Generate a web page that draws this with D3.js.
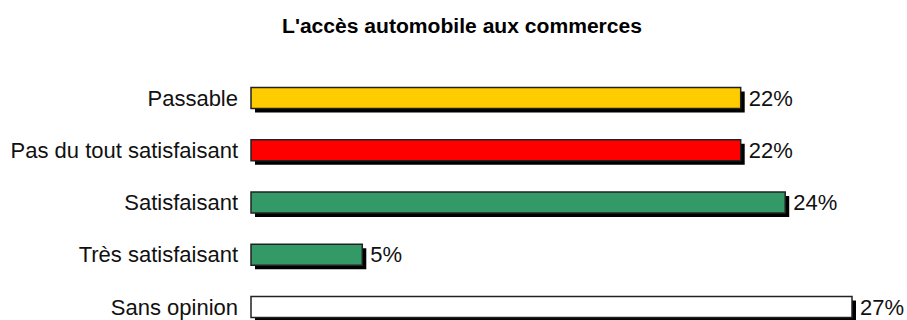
<!DOCTYPE html>
<html><head><meta charset="utf-8">
<script src="https://cdn.jsdelivr.net/npm/d3@7"></script>
<style>body{margin:0;background:#fff}svg{display:block}</style>
</head><body>
<script>
const categories = ["Passable","Pas du tout satisfaisant","Satisfaisant","Très satisfaisant","Sans opinion"];
const values = [22,22,24,5,27];
const colors = ["#FFCC00","#FF0000","#339966","#339966","#FFFFFF"];
const title = "L'accès automobile aux commerces";

const W=907,H=320;
const FONT="Liberation Sans, Arial, sans-serif";
const svg=d3.select("body").append("svg").attr("width",W).attr("height",H);
const x=d3.scaleLinear().domain([0,27]).range([251,852]);
const y=d3.scalePoint().domain(categories).range([98,307]);
const bh=21, off=4;

svg.append("text").attr("x",462).attr("y",33).attr("text-anchor","middle")
  .attr("font-family",FONT).attr("font-weight","bold")
  .attr("font-size",19.5).attr("textLength",360).attr("lengthAdjust","spacingAndGlyphs").text(title);

const g=svg.selectAll("g.row").data(categories.map((c,i)=>({c,v:values[i],col:colors[i]}))).join("g");
g.append("rect").attr("x",x(0)+off).attr("y",d=>y(d.c)-bh/2+off)
  .attr("width",d=>x(d.v)-x(0)).attr("height",bh).attr("fill","#000");
g.append("rect").attr("x",x(0)).attr("y",d=>y(d.c)-bh/2)
  .attr("width",d=>x(d.v)-x(0)).attr("height",bh).attr("fill",d=>d.col)
  .attr("stroke","#222").attr("stroke-width",1.5);
g.append("text").attr("x",238).attr("y",d=>y(d.c)).attr("dy","0.35em").attr("text-anchor","end")
  .attr("font-family",FONT).attr("font-size",22).attr("fill","#111").text(d=>d.c);
g.append("text").attr("x",d=>x(d.v)+off+4).attr("y",d=>y(d.c)).attr("dy","0.35em")
  .attr("font-family",FONT).attr("font-size",22).attr("fill","#111").text(d=>d.v+"%");
</script>
</body></html>
